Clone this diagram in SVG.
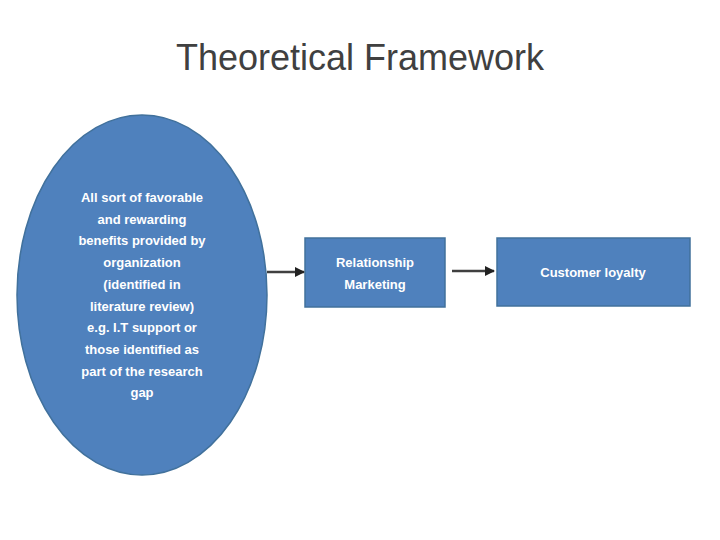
<svg xmlns="http://www.w3.org/2000/svg" width="720" height="540" viewBox="0 0 720 540">
<style>
.node{fill:#4F81BD;stroke:#41719C;stroke-width:1.5}
.lbl{font-family:"Liberation Sans",Arial,sans-serif;font-size:13px;font-weight:bold;fill:#ffffff;text-anchor:middle}
.title{font-family:"Liberation Sans",Arial,sans-serif;font-size:36px;fill:#404040;text-anchor:middle}
.conn{stroke:#404040;stroke-width:2.5;fill:none}
</style>
<defs>
<marker id="ah" viewBox="0 0 10 10" refX="9" refY="5" markerWidth="4" markerHeight="4" orient="auto">
<path d="M0,0 L10,5 L0,10 z" fill="#222"/>
</marker>
</defs>
<rect width="720" height="540" fill="#ffffff"/>
<text class="title" x="360" y="70">Theoretical Framework</text>
<g id="benefits">
<ellipse class="node" cx="142" cy="295" rx="125" ry="180"/>
<text class="lbl" x="142" y="202">All sort of favorable</text>
<text class="lbl" x="142" y="224">and rewarding</text>
<text class="lbl" x="142" y="245">benefits provided by</text>
<text class="lbl" x="142" y="267">organization</text>
<text class="lbl" x="142" y="289">(identified in</text>
<text class="lbl" x="142" y="311">literature review)</text>
<text class="lbl" x="142" y="332">e.g. I.T support or</text>
<text class="lbl" x="142" y="354">those identified as</text>
<text class="lbl" x="142" y="376">part of the research</text>
<text class="lbl" x="142" y="397">gap</text>
</g>
<g id="relationship">
<rect class="node" x="305" y="238" width="140" height="69"/>
<text class="lbl" x="375" y="267">Relationship</text>
<text class="lbl" x="375" y="289">Marketing</text>
</g>
<g id="loyalty">
<rect class="node" x="497" y="238" width="193" height="68"/>
<text class="lbl" x="593" y="277">Customer loyalty</text>
</g>
<g id="connectors">
<line class="conn" x1="267" y1="272" x2="304" y2="272" marker-end="url(#ah)"/>
<line class="conn" x1="452" y1="271" x2="494" y2="271" marker-end="url(#ah)"/>
</g>
</svg>
